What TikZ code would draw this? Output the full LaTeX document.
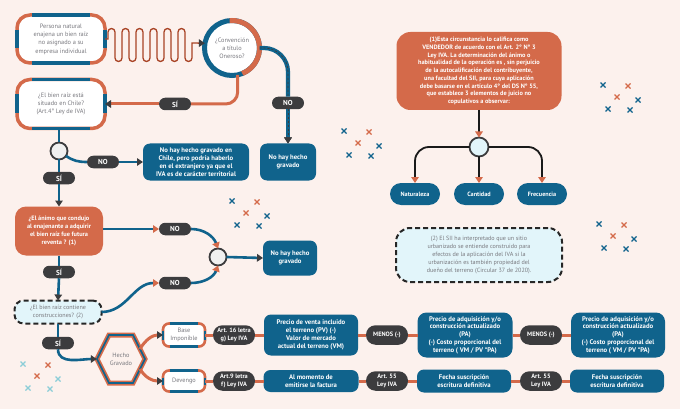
\documentclass[tikz,border=0pt]{standalone}
\usepackage{fontspec}
\setmainfont{PT Sans}
\usepackage{tikz}
\usetikzlibrary{arrows.meta,positioning,calc}
\definecolor{fondo}{RGB}{252,241,237}
\definecolor{azul}{RGB}{16,99,140}
\definecolor{naranja}{RGB}{212,106,74}
\definecolor{grisosc}{RGB}{60,60,62}
\definecolor{celeste}{RGB}{226,245,250}
\definecolor{gristexto}{RGB}{120,120,126}
\definecolor{cafe}{RGB}{168,66,36}
\definecolor{turquesa}{RGB}{140,205,215}
\newcommand{\bordeazul}[3]{%
  \draw[azul,line width=#3] ($(#1.north west)+(#2,0)$) -- ($(#1.north east)+(-#2,0)$);
  \draw[azul,line width=#3] ($(#1.south west)+(#2,0)$) -- ($(#1.south east)+(-#2,0)$);
  \draw[azul,line width=#3] ($(#1.north west)+(0,-#2)$) -- ($(#1.south west)+(0,#2)$);
  \draw[azul,line width=#3] ($(#1.north east)+(0,-#2)$) -- ($(#1.south east)+(0,#2)$);}
\newcommand{\cruces}[4]{%
  \foreach \dx/\dy/\col in {0/0/#3,25/1/#4,14/12/#4,35/15/#3,5/24/#3,27/25/#3}
    {\draw[cruz,draw=\col] (#1+\dx-2.5,-#2-\dy-2.5) -- ++(5,5) ++(-5,0) -- ++(5,-5);}}

\begin{document}
\begin{tikzpicture}[x=1pt,y=1pt,
  caja/.style={draw=naranja,line width=3.5pt,fill=white,rounded corners=13pt,outer sep=0pt,
    align=center,text=gristexto,inner sep=2pt,font=\fontsize{6.3}{8.3}\selectfont},
  cajita/.style={caja,line width=2.6pt,rounded corners=6pt,minimum width=42pt},
  azulcaja/.style={fill=azul,text=white,rounded corners=7pt,align=center,inner sep=2pt,outer sep=0pt,
    font=\bfseries\fontsize{6.7}{7.8}\selectfont},
  narcaja/.style={azulcaja,fill=naranja},
  pildora/.style={fill=grisosc,text=white,rounded corners=6.25pt,minimum width=32pt,minimum height=12.5pt,
    inner sep=1pt,outer sep=0pt,align=center,font=\bfseries\fontsize{7.2}{7.5}\selectfont},
  pildoraart/.style={pildora,rounded corners=9.5pt,minimum width=42pt,minimum height=19.5pt,
    font=\bfseries\fontsize{6.3}{7.4}\selectfont},
  aviso/.style={fill=celeste,draw=black!85,line width=2pt,dash pattern=on 5pt off 3pt,rounded corners=10pt,
    align=center,text=gristexto,outer sep=0pt,font=\fontsize{6.1}{7.9}\selectfont},
  nudo/.style={circle,fill=gray!12,draw=grisosc,line width=1.8pt,minimum size=17pt,inner sep=0pt,outer sep=0pt},
  lazul/.style={draw=azul,line width=2.6pt},
  lpunteada/.style={draw=azul,line width=4.2pt,postaction={draw=grisosc,line width=0.7pt,dash pattern=on 2pt off 2pt}},
  lnar/.style={draw=naranja,line width=3pt},
  lnegra/.style={draw=black!90,line width=1.8pt},
  ola/.style={draw=cafe,line width=1.3pt},
  cruz/.style={line width=1.3pt},
  punta/.style={-{Triangle[length=6pt,width=7.5pt,color=grisosc]}},
  puntanar/.style={-{Triangle[length=6pt,width=7.5pt,color=naranja]}}]
\useasboundingbox (0,0) rectangle (680,-409);
\fill[fondo] (0,0) rectangle (680,-409);

\node[caja,minimum width=88pt,minimum height=48pt] (persona) at (61,-39)
 {Persona natural\\enajena un bien raíz\\no asignado a su\\empresa individual};
\node[circle,draw=azul,line width=5pt,fill=white,minimum size=55pt,inner sep=1pt,outer sep=0pt,
  align=center,text=gristexto,font=\fontsize{6.3}{8}\selectfont] (oner) at (232,-48)
 {¿Convención\\a título\\Oneroso?};
\draw[naranja,line width=5pt] (oner.95) arc[start angle=95,end angle=-68,radius=27.5];
\node[caja,minimum width=88pt,minimum height=49pt] (chile) at (61,-104)
 {¿El bien raíz está\\situado en Chile?\\(Art.4° Ley de IVA)};
\bordeazul{persona}{15}{3.5pt}
\bordeazul{chile}{15}{3.5pt}
\node[pildora] (si1) at (175,-104) {SÍ};
\node[pildora] (no1) at (288,-103) {NO};
\node[azulcaja,minimum width=56pt,minimum height=37pt] (nohay1) at (288,-162) {No hay hecho\\gravado};
\node[nudo] (c1) at (59,-151) {};
\node[pildora] (no2) at (103,-162) {NO};
\node[azulcaja,minimum width=106pt,minimum height=37pt] (extranjero) at (196,-162)
 {No hay hecho gravado en\\Chile, pero podría haberlo\\en el extranjero ya que el\\IVA es de carácter territorial};
\node[pildora] (si2) at (59,-178) {SÍ};
\node[narcaja,rounded corners=11pt,minimum width=88pt,minimum height=49pt,
  font=\bfseries\fontsize{6.3}{8}\selectfont] (animo) at (59,-231)
 {¿El ánimo que condujo\\al enajenante a adquirir\\el bien raíz fue futura\\reventa ? (1)};
\node[pildora] (no3) at (175,-229) {NO};
\node[nudo] (c2) at (218,-257) {};
\node[pildora] (no4) at (175,-283) {NO};
\node[azulcaja,minimum width=54pt,minimum height=35pt] (nohay2) at (290,-258) {No hay hecho\\gravado};
\node[pildora] (si3) at (59,-272) {SÍ};
\node[aviso,rounded corners=9pt,minimum width=87pt,minimum height=23pt] (constr) at (58,-312)
 {¿El bien raíz contiene\\construcciones? (2)};
\node[pildora] (si4) at (58,-343) {SÍ};

\node[text=gristexto,align=center,minimum width=48pt,minimum height=48pt,inner sep=0pt,
  font=\fontsize{6.3}{8.3}\selectfont] (hecho) at (121,-359) {Hecho\\Gravado};
\foreach \c/\w in {naranja/5pt,azul/1.6pt}
  \draw[\c,line width=\w] ($(hecho)+(-24,0)$) -- ++(12,24) -- ++(24,0) -- ++(12,-24) -- ++(-12,-24) -- ++(-24,0) -- cycle;
\coordinate (hexne) at ($(hecho)+(19,10)$);
\coordinate (hexse) at ($(hecho)+(19,-10)$);

\node[cajita,minimum height=23pt] (base) at (184,-335) {Base\\Imponible};
\node[cajita,minimum height=21pt] (deveng) at (184,-381) {Devengo};
\bordeazul{base}{7}{2.6pt}
\bordeazul{deveng}{7}{2.6pt}
\node[pildoraart] (art16) at (234,-335) {Art. 16 letra\\g) Ley IVA};
\node[azulcaja,minimum width=94pt,minimum height=41pt] (pv) at (311,-335)
 {Precio de venta incluido\\el terreno (PV) (-)\\Valor de mercado\\actual del terreno (VM)};
\node[pildoraart] (menos1) at (387,-335) {MENOS (-)};
\node[azulcaja,rounded corners=9pt,minimum width=95pt,minimum height=45pt] (pa1) at (465,-335)
 {Precio de adquisición y/o\\construcción actualizado\\(PA)\\(-) Costo proporcional del\\terreno ( VM / PV *PA)};
\node[pildoraart] (menos2) at (541,-335) {MENOS (-)};
\node[azulcaja,rounded corners=9pt,minimum width=94pt,minimum height=45pt] (pa2) at (618,-335)
 {Precio de adquisición y/o\\construcción actualizado\\(PA)\\(-) Costo proporcional del\\terreno ( VM / PV *PA)};
\node[pildoraart] (art9) at (234,-381) {Art.9 letra\\f) Ley IVA};
\node[azulcaja,minimum width=95pt,minimum height=22pt] (momento) at (311,-381) {Al momento de\\emitirse la factura};
\node[pildoraart] (art55a) at (387,-381) {Art. 55\\Ley IVA};
\node[azulcaja,minimum width=94pt,minimum height=23pt] (fecha1) at (464,-381) {Fecha suscripción\\escritura definitiva};
\node[pildoraart] (art55b) at (541,-381) {Art. 55\\Ley IVA};
\node[azulcaja,minimum width=94pt,minimum height=23pt] (fecha2) at (617,-381) {Fecha suscripción\\escritura definitiva};

\node[narcaja,rounded corners=14pt,minimum width=165pt,minimum height=78pt,
  font=\bfseries\fontsize{6.3}{7.7}\selectfont] (nota1) at (479,-71)
 {(1)Esta circunstancia lo califica como\\VENDEDOR de acuerdo con el Art. 2° N° 3\\Ley IVA. La determinación del ánimo o\\habitualidad de la operación es , sin perjuicio\\de la autocalificación del contribuyente,\\una facultad del SII, para cuya aplicación\\debe basarse en el artículo 4° del DS N° 55,\\que establece 3 elementos de juicio no\\copulativos a observar:};
\node[nudo,fill=celeste,minimum size=19pt] (c3) at (479,-147) {};
\node[azulcaja,rounded corners=11pt,minimum width=50pt,minimum height=22pt,
  font=\bfseries\fontsize{6.2}{7}\selectfont] (natur) at (415,-194) {Naturaleza};
\node[azulcaja,rounded corners=11pt,minimum width=50pt,minimum height=22pt,
  font=\bfseries\fontsize{6.2}{7}\selectfont] (cant) at (479,-194) {Cantidad};
\node[azulcaja,rounded corners=11pt,minimum width=50pt,minimum height=22pt,
  font=\bfseries\fontsize{6.2}{7}\selectfont] (frec) at (542,-194) {Frecuencia};
\node[aviso,rounded corners=14pt,minimum width=166pt,minimum height=54pt] (nota2) at (479,-255)
 {(2) El SII ha interpretado que un sitio\\urbanizado se entiende construido para\\efectos de la aplicación del IVA si la\\urbanización es también propiedad del\\dueño del terreno (Circular 37 de 2020).};

\draw[ola,punta] (persona.east) -- ++(3,0) -- ++(0,7)
  foreach \i in {1,...,5} {arc[start angle=180,end angle=0,radius=3.5] -- ++(0,-26)
    arc[start angle=180,end angle=360,radius=3.5] -- ++(0,26)}
  arc[start angle=180,end angle=0,radius=3.5] -- ++(0,-26)
  arc[start angle=180,end angle=360,radius=3.5] -- ++(0,15) -- (oner.170);
\draw[lnar,rounded corners=12pt] (oner.-78) |- (si1.east);
\draw[lnar,punta] (si1.west) -- (chile.east);
\draw[lpunteada,rounded corners=24pt] (oner.east) -| (no1.north);
\draw[lpunteada,punta] (no1.south) -- (nohay1.north);
\draw[lazul] (chile.south -| c1) -- (c1.north);
\draw[lazul] (c1.-35) to[out=-35,in=180] (no2.west);
\draw[lazul,punta] (no2.east) -- (extranjero.west);
\draw[lazul] (c1.south) -- (si2.north);
\draw[lazul,punta] (si2.south) -- (animo.north);
\draw[lazul,puntanar] (animo.east |- no3.west) -- (no3.west);
\draw[lazul,puntanar] (no3.east) to[out=0,in=110] (c2.north);
\draw[lazul,puntanar] (constr.east) to[out=0,in=180] (no4.west);
\draw[lazul,puntanar] (no4.east) to[out=0,in=-110] (c2.south);
\draw[lazul,punta] (c2.east) -- (nohay2.west);
\draw[lazul] (animo.south) -- (si3.north);
\draw[lazul,punta] (si3.south) -- (constr.north);
\draw[lazul] (constr.south) -- (si4.north);
\draw[lazul,punta] (si4.south) to[out=-90,in=180] (hecho.west);
\draw[lnar,punta] (hexne) to[out=60,in=180] (base.west);
\draw[lnar,punta] (hexse) to[out=-60,in=180] (deveng.west);
\foreach \a/\b in {base/art16,art16/pv,pv/menos1,menos1/pa1,pa1/menos2,menos2/pa2,
  deveng/art9,art9/momento,momento/art55a,art55a/fecha1,fecha1/art55b,art55b/fecha2}
  \draw[lnar] (\a.east) -- (\b.west);
\draw[lnegra,puntanar] (nota1.south) -- (c3.north);
\draw[lnegra,puntanar,rounded corners=14pt] (c3.west) -| (natur.north);
\draw[lnegra,puntanar] (c3.south) -- (cant.north);
\draw[lnegra,puntanar,rounded corners=14pt] (c3.east) -| (frec.north);

\cruces{344}{131}{azul}{naranja}
\cruces{603}{85}{azul}{naranja}
\cruces{232}{201}{azul}{naranja}
\cruces{599}{224}{azul}{naranja}
\cruces{23}{364}{turquesa}{naranja}
\end{tikzpicture}
\end{document}
